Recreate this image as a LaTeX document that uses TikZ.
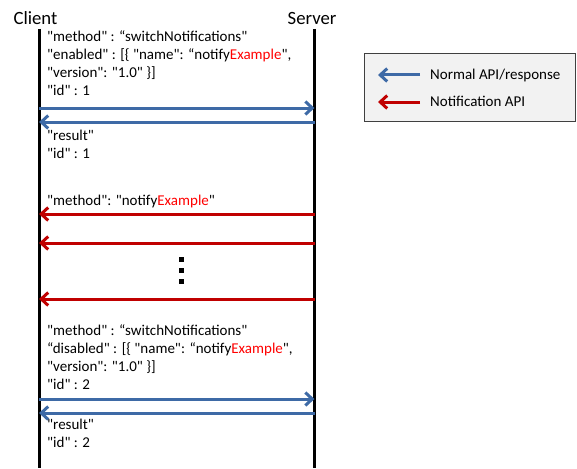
\documentclass[tikz,border=0pt]{standalone}
\usepackage{fontspec}
\setmainfont{Carlito}[Ligatures=TeXOff]
\usetikzlibrary{arrows.meta,positioning}
\definecolor{apiblue}{RGB}{62,106,166}
\definecolor{notifred}{RGB}{192,0,0}
\definecolor{exred}{RGB}{255,0,0}
\newcommand{\ex}{\textcolor{exred}{Example}}

\begin{document}
\begin{tikzpicture}[
    x=1pt, y=-1pt,
    actor/.style={font=\fontsize{18.7}{22}\selectfont, inner sep=0pt, anchor=base},
    lifeline/.style={line width=3pt, black},
    msg/.style={font=\fontsize{15}{18}\selectfont, inner sep=0pt, anchor=north west, align=left},
    legendtxt/.style={font=\fontsize{15}{18}\selectfont, inner sep=0pt, anchor=base west},
    normal/.style={-{Straight Barb[length=7pt,width=13pt,line width=3pt]}, line width=3pt, apiblue},
    notif/.style={-{Straight Barb[length=7pt,width=13pt,line width=3pt]}, line width=3pt, notifred},
    legendbox/.style={draw=black!75, fill=black!5, line width=0.8pt, minimum width=211pt, minimum height=68pt}
]
\useasboundingbox (0,0) rectangle (577,468);

% actors and lifelines
\node[actor] (client) at (35.5,25) {Client};
\node[actor] (server) at (312,25) {Server};
\coordinate (ctop) at (39,29);
\coordinate (cbot) at (39,468);
\coordinate (stop) at (314.5,29);
\coordinate (sbot) at (314.5,468);
\draw[lifeline] (ctop) -- (cbot);
\draw[lifeline] (stop) -- (sbot);

% arrow ends on the lifelines
\foreach \n/\y in {1/108,2/122,3/214,4/243,5/299,6/399,7/413} {
    \coordinate (c\n) at (39,\y);
    \coordinate (s\n) at (314.5,\y);
}

% messages
\node[msg] (req1) at (47,28.4) {\strut"method" : “switchNotifications"\\
    "enabled" : [\{ "name": “notify\ex",\\
    "version": "1.0" \}]\\
    "id" : 1};
\node[msg] (res1) at (47,127.4) {\strut"result"\\ "id" : 1};
\node[msg] (notify) at (47,192.4) {\strut"method": "notify\ex"};
\node[msg] (req2) at (47,322.4) {\strut"method" : “switchNotifications"\\
    “disabled" : [\{ "name": “notify\ex",\\
    "version": "1.0" \}]\\
    "id" : 2};
\node[msg] (res2) at (47,416.4) {\strut"result"\\ "id" : 2};

\draw[normal] (c1) -- (s1);
\draw[normal] (s2) -- (c2);
\draw[notif] (s3) -- (c3);
\draw[notif] (s4) -- (c4);
\draw[notif] (s5) -- (c5);
\draw[normal] (c6) -- (s6);
\draw[normal] (s7) -- (c7);

% vertical dots
\foreach \y in {259,270,281}
    \fill (178.5,\y-2.5) rectangle ++(5,5);

% legend
\node[legendbox] (legend) at (469.5,87) {};
\node[legendtxt] (lnormal) at (430,79.5) {Normal API/response};
\node[legendtxt] (lnotif) at (430,106.5) {Notification API};
\coordinate (lna) at (420,75);
\coordinate (lnb) at (378,75);
\coordinate (lra) at (420,102);
\coordinate (lrb) at (378,102);
\draw[normal] (lna) -- (lnb);
\draw[notif] (lra) -- (lrb);
\end{tikzpicture}
\end{document}
